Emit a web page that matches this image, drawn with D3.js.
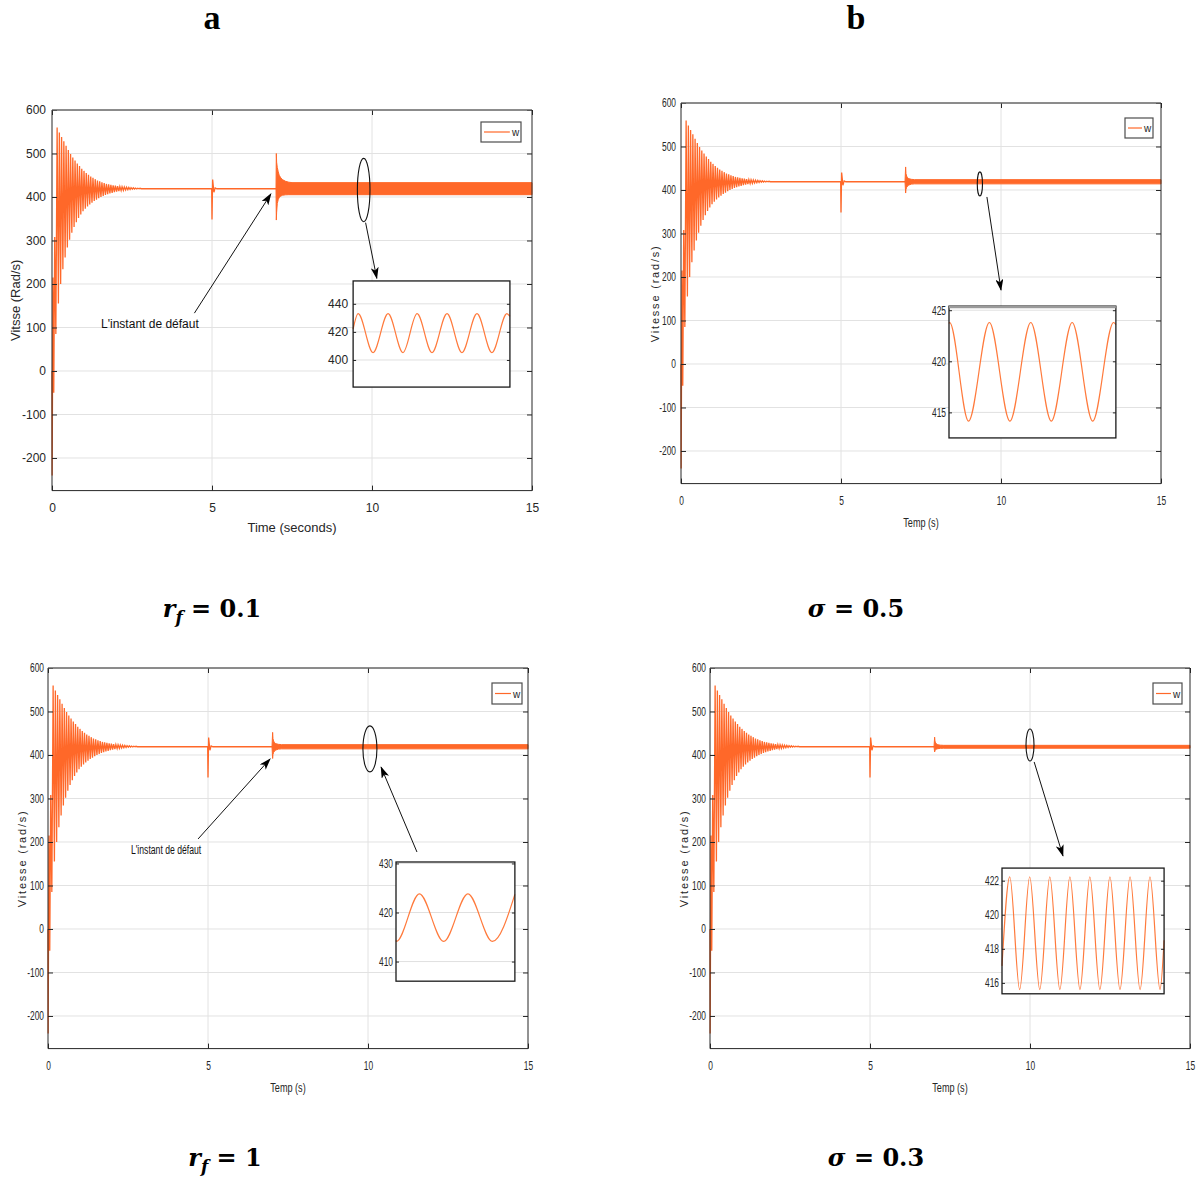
<!DOCTYPE html>
<html><head><meta charset="utf-8">
<script src="https://cdn.jsdelivr.net/npm/d3@7"></script>
<style>body{margin:0;background:#fff}</style>
</head><body>
<svg id="chart" width="1199" height="1178" xmlns="http://www.w3.org/2000/svg"></svg>
<script>
// ---------------- DATA ----------------
const xTicks = [0, 5, 10, 15];
const yTicks = [-200, -100, 0, 100, 200, 300, 400, 500, 600];
const yDomain = [-275, 600];
const steadyW = 419;

// start-up transient: successive extrema (t in s, w in rad/s)
const startT = [0, 0.005, 0.03, 0.055, 0.085, 0.12, 0.16, 0.20, 0.23, 0.27, 0.30, 0.34, 0.37, 0.41, 0.44, 0.48, 0.51, 0.55, 0.58, 0.62, 0.65, 0.69, 0.72, 0.76, 0.79, 0.83, 0.86, 0.90, 0.93, 0.97, 1.00, 1.04, 1.07, 1.11, 1.14, 1.18, 1.21, 1.25, 1.28, 1.32, 1.35, 1.39, 1.42, 1.46, 1.49, 1.53, 1.56, 1.60, 1.63, 1.67, 1.70, 1.74, 1.77, 1.81, 1.84, 1.88, 1.91, 1.95, 1.98, 2.02, 2.05, 2.09, 2.12, 2.16, 2.19, 2.23, 2.26, 2.30, 2.33, 2.37, 2.40, 2.44, 2.47, 2.51, 2.54, 2.58, 2.61, 2.65, 2.68, 2.72, 2.75, 2.79];
const startW = [0, -240, 215, -50, 308, 85, 560, 155, 548, 200, 538, 234, 528, 261, 518, 284, 508, 302, 499, 318, 491, 331, 484, 342, 477, 352, 471, 360, 465, 367, 460, 373, 455, 378, 451, 383, 447, 387, 444, 391, 441, 394, 438, 397, 436, 400, 434, 402.5, 432, 404.5, 430, 406.5, 429, 408, 428, 409.5, 427, 411, 426, 412.3, 425, 413.5, 424, 414.5, 423.5, 415.3, 423, 416, 422.5, 416.7, 422, 417.3, 421.5, 417.8, 421, 418.2, 420.5, 418.5, 420.2, 418.8, 420, 419];

// load step at t = 5 s
const eventT = [4.99, 5.0, 5.02, 5.06, 5.10, 5.15, 7.0];
const eventW = [419, 348, 440, 411, 421, 419, 419];

// fault at t = 7 s : envelope (upper / lower) of the fast oscillation
const faultA_T = [7.0, 7.01, 7.02, 7.04, 7.07, 7.1, 7.15, 7.2, 7.3, 7.4, 7.5, 15];
const faultA_Hi = [419, 500, 480, 468, 458, 450, 444, 440, 436, 434, 433, 433];
const faultA_Lo = [419, 347, 365, 385, 394, 399, 402, 404, 405, 405.3, 405.3, 405.3];

const faultB_T = [7.0, 7.02, 7.03, 7.05, 7.08, 7.12, 7.2, 7.3, 15];
const faultB_Hi = [419, 453, 438, 432, 428, 426, 424.5, 423.8, 423.8];
const faultB_Lo = [419, 393, 401, 406, 409, 411.5, 413.5, 414.1, 414.1];

const faultC_T = [7.0, 7.02, 7.03, 7.05, 7.08, 7.12, 7.2, 7.3, 15];
const faultC_Hi = [419, 452, 438, 432, 428, 426, 424.5, 423.8, 423.8];
const faultC_Lo = [419, 392, 401, 406, 409, 411.5, 413.5, 414.1, 414.1];

const faultD_T = [7.0, 7.02, 7.03, 7.05, 7.08, 7.12, 7.2, 7.3, 15];
const faultD_Hi = [419, 441, 432, 428, 425, 423.5, 422.6, 422.2, 422.2];
const faultD_Lo = [419, 407, 410, 412, 413.5, 414.5, 415.3, 415.6, 415.6];

// zoom insets: extrema of the steady oscillation (normalised time in the zoom window)
const insetA_T = [0, 0.032, 0.127, 0.223, 0.318, 0.408, 0.503, 0.599, 0.694, 0.79, 0.885, 0.981, 1.0];
const insetA_W = [422, 433, 405.3, 433, 405.3, 433, 405.3, 433, 405.3, 433, 405.3, 433, 431];
const insetA_Ticks = [400, 420, 440];
const insetA_Dom = [380.7, 456.3];

const insetB_T = [0, 0.004, 0.117, 0.242, 0.365, 0.49, 0.613, 0.738, 0.861, 0.986, 1.0];
const insetB_W = [423.7, 423.8, 414.15, 423.8, 414.15, 423.8, 414.15, 423.8, 414.15, 423.8, 423.6];
const insetB_Ticks = [415, 420, 425];
const insetB_Dom = [412.5, 425.4];

const insetC_T = [0, 0.003, 0.197, 0.401, 0.605, 0.811, 1.0];
const insetC_W = [414.3, 414.1, 423.8, 414.1, 423.8, 414.1, 423.7];
const insetC_Ticks = [410, 420, 430];
const insetC_Dom = [406, 430.3];

const insetD_T = [0, 0.048, 0.109, 0.171, 0.233, 0.295, 0.357, 0.419, 0.481, 0.542, 0.604, 0.666, 0.728, 0.79, 0.852, 0.913, 0.975, 1.0];
const insetD_W = [417, 422.23, 415.61, 422.23, 415.61, 422.23, 415.61, 422.23, 415.61, 422.23, 415.61, 422.23, 415.61, 422.23, 415.61, 422.23, 415.61, 418.5];
const insetD_Ticks = [416, 418, 420, 422];
const insetD_Dom = [415.36, 422.74];

// ---------------- LAYOUT ----------------
const ORANGE = '#ff6829';
const INSET_ORANGE = '#ff7a3c';
const panels = [
  { x0: 52, x1: 532, y0: 110, y1: 490.6, cond: false, tickFs: 12, xlabel: 'Time (seconds)', ylabel: 'Vitsse (Rad/s)',
    ylabStyle: 'normal', yLabX: 15, yPad: 6, xPad: 12.5, xLabDy: 41.5,
    fault: [faultA_T, faultA_Hi, faultA_Lo],
    legend: { x: 481, y: 122, w: 40, h: 20 },
    inset: { t0: 9.41, t1: 14.31, v0: 207, v1: -37, T: insetA_T, W: insetA_W, ticks: insetA_Ticks, dom: insetA_Dom, grayTop: false },
    ellipse: { t: 9.74, v: 416, rx: 6.3, ry: 31.7 },
    zoomArrow: { t0: 9.80, v0: 341, t1: 10.15, v1: 213 },
    note: { t: 3.06, v: 108, at0: 4.45, av0: 133, at1: 6.84, av1: 407 } },
  { x0: 681, x1: 1161, y0: 103, y1: 483.6, cond: true, tickFs: 12, xlabel: 'Temp (s)', ylabel: 'Vitesse (rad/s)',
    ylabStyle: 'spaced', yLabX: 655, yPad: 5, xPad: 13, xLabDy: 43,
    fault: [faultB_T, faultB_Hi, faultB_Lo],
    legend: { x: 1125, y: 118, w: 28, h: 20 },
    inset: { t0: 8.375, t1: 13.59, v0: 133, v1: -170, T: insetB_T, W: insetB_W, ticks: insetB_Ticks, dom: insetB_Dom, grayTop: true },
    ellipse: { t: 9.34, v: 414, rx: 2.6, ry: 12 },
    zoomArrow: { t0: 9.56, v0: 384, t1: 10.0, v1: 170 },
    note: null },
  { x0: 48, x1: 528, y0: 668, y1: 1048.6, cond: true, tickFs: 12, xlabel: 'Temp (s)', ylabel: 'Vitesse (rad/s)',
    ylabStyle: 'spaced', yLabX: 22, yPad: 4, xPad: 13, xLabDy: 43,
    fault: [faultC_T, faultC_Hi, faultC_Lo],
    legend: { x: 492, y: 683, w: 30, h: 21 },
    inset: { t0: 10.875, t1: 14.59, v0: 154, v1: -120, T: insetC_T, W: insetC_W, ticks: insetC_Ticks, dom: insetC_Dom, grayTop: false },
    ellipse: { t: 10.06, v: 414, rx: 7, ry: 23 },
    zoomArrow: { t0: 11.53, v0: 177, t1: 10.41, v1: 372 },
    note: { t: 3.69, v: 182, at0: 4.69, av0: 207, at1: 6.94, av1: 391 } },
  { x0: 710, x1: 1190, y0: 668, y1: 1048.6, cond: true, tickFs: 12, xlabel: 'Temp (s)', ylabel: 'Vitesse (rad/s)',
    ylabStyle: 'spaced', yLabX: 684, yPad: 4, xPad: 13, xLabDy: 43,
    fault: [faultD_T, faultD_Hi, faultD_Lo],
    legend: { x: 1153, y: 683, w: 29, h: 21 },
    inset: { t0: 9.125, t1: 14.19, v0: 140, v1: -149, T: insetD_T, W: insetD_W, ticks: insetD_Ticks, dom: insetD_Dom, grayTop: false },
    ellipse: { t: 10.0, v: 423, rx: 4, ry: 16 },
    zoomArrow: { t0: 10.13, v0: 384, t1: 11.03, v1: 168 },
    note: null }
];

const svg = d3.select('#chart');
const SANS = 'Liberation Sans, Arial, Helvetica, sans-serif';
const fmt = d => String(d);

svg.append('defs').append('marker')
  .attr('id', 'arr').attr('markerUnits', 'userSpaceOnUse')
  .attr('viewBox', '0 0 12 8').attr('refX', 11).attr('refY', 4)
  .attr('markerWidth', 12).attr('markerHeight', 8).attr('orient', 'auto')
  .append('path').attr('d', 'M0,0L12,4L0,8L3,4Z').attr('fill', '#000');

function condense(sel, f) {
  sel.each(function () {
    const l = this.getComputedTextLength();
    if (l > 0) d3.select(this).attr('textLength', l * f).attr('lengthAdjust', 'spacingAndGlyphs');
  });
}

function drawPanel(p) {
  const x = d3.scaleLinear().domain([0, 15]).range([p.x0, p.x1]);
  const y = d3.scaleLinear().domain(yDomain).range([p.y1, p.y0]);
  const g = svg.append('g');
  const CF = 0.7;

  // grid
  g.append('g').selectAll('line').data(yTicks).join('line')
    .attr('x1', p.x0).attr('x2', p.x1).attr('y1', d => y(d)).attr('y2', d => y(d))
    .attr('stroke', '#e2e2e2').attr('stroke-width', 1);
  g.append('g').selectAll('line').data(xTicks.filter(d => d > 0 && d < 15)).join('line')
    .attr('x1', d => x(d)).attr('x2', d => x(d)).attr('y1', p.y0).attr('y2', p.y1)
    .attr('stroke', '#e2e2e2').attr('stroke-width', 1);

  // signal
  const seq = startT.map((t, i) => [t, startW[i]]).concat(eventT.map((t, i) => [t, eventW[i]]));
  g.append('path').datum(seq)
    .attr('d', d3.line().x(d => x(d[0])).y(d => y(d[1])))
    .attr('fill', 'none').attr('stroke', ORANGE).attr('stroke-width', 1.3);
  const [fT, fH, fL] = p.fault;
  const fa = fT.map((t, i) => ({ t, hi: fH[i], lo: fL[i] }));
  g.append('path').datum(fa)
    .attr('d', d3.area().x(d => x(d.t)).y0(d => y(d.lo)).y1(d => y(d.hi)))
    .attr('fill', ORANGE).attr('stroke', ORANGE).attr('stroke-width', 1);

  // axes
  const fs = p.tickFs;
  const ax = g.append('g').attr('transform', `translate(0,${p.y1})`)
    .call(d3.axisBottom(x).tickValues(xTicks).tickSize(-5).tickPadding(p.xPad).tickFormat(fmt));
  const ay = g.append('g').attr('transform', `translate(${p.x0},0)`)
    .call(d3.axisLeft(y).tickValues(yTicks).tickSize(-5).tickPadding(p.yPad).tickFormat(fmt));
  const at = g.append('g').attr('transform', `translate(0,${p.y0})`)
    .call(d3.axisTop(x).tickValues(xTicks).tickSize(-5).tickFormat(''));
  const ar = g.append('g').attr('transform', `translate(${p.x1},0)`)
    .call(d3.axisRight(y).tickValues(yTicks).tickSize(-5).tickFormat(''));
  [ax, ay, at, ar].forEach(a => {
    a.select('.domain').remove();
    a.selectAll('.tick line').attr('stroke', '#262626');
    a.selectAll('text').attr('font-family', SANS).attr('font-size', fs).attr('fill', '#262626');
  });
  if (p.cond) { condense(ax.selectAll('text'), CF); condense(ay.selectAll('text'), CF); }
  // box
  g.append('line').attr('x1', p.x0).attr('x2', p.x1).attr('y1', p.y0).attr('y2', p.y0).attr('stroke', '#6a6a6a').attr('stroke-width', 1.6);
  g.append('line').attr('x1', p.x0).attr('x2', p.x0).attr('y1', p.y0).attr('y2', p.y1).attr('stroke', '#262626');
  g.append('line').attr('x1', p.x1).attr('x2', p.x1).attr('y1', p.y0).attr('y2', p.y1).attr('stroke', '#262626');
  g.append('line').attr('x1', p.x0).attr('x2', p.x1).attr('y1', p.y1).attr('y2', p.y1).attr('stroke', '#262626');

  // axis labels
  const xl = g.append('text').attr('x', (p.x0 + p.x1) / 2).attr('y', p.y1 + p.xLabDy)
    .attr('text-anchor', 'middle').attr('font-family', SANS).attr('font-size', p.cond ? 13 : 13)
    .attr('fill', '#262626').text(p.xlabel);
  if (p.cond) condense(xl, CF);
  const yl = g.append('text')
    .attr('transform', `translate(${p.yLabX},${(p.y0 + p.y1) / 2}) rotate(-90)`)
    .attr('text-anchor', 'middle').attr('dy', '0.35em').attr('font-family', SANS)
    .attr('fill', '#262626').text(p.ylabel);
  if (p.ylabStyle === 'spaced') yl.attr('font-size', 11).attr('letter-spacing', 1.8);
  else yl.attr('font-size', 13);

  // legend
  const L = p.legend;
  g.append('rect').attr('x', L.x).attr('y', L.y).attr('width', L.w).attr('height', L.h)
    .attr('fill', '#fff').attr('stroke', '#4d4d4d').attr('stroke-width', 1.2);
  g.append('line').attr('x1', L.x + 3).attr('x2', L.x + L.w - 11).attr('y1', L.y + L.h / 2).attr('y2', L.y + L.h / 2)
    .attr('stroke', ORANGE).attr('stroke-width', 1.2);
  g.append('text').attr('x', L.x + L.w - 9).attr('y', L.y + L.h / 2 + 4)
    .attr('font-family', SANS).attr('font-size', 10).attr('fill', '#262626').text('w');

  // ellipse + zoom arrow
  const E = p.ellipse;
  g.append('ellipse').attr('cx', x(E.t)).attr('cy', y(E.v)).attr('rx', E.rx).attr('ry', E.ry)
    .attr('fill', 'none').attr('stroke', '#111').attr('stroke-width', 1.1);
  const Z = p.zoomArrow;
  g.append('line').attr('x1', x(Z.t0)).attr('y1', y(Z.v0)).attr('x2', x(Z.t1)).attr('y2', y(Z.v1))
    .attr('stroke', '#111').attr('stroke-width', 1).attr('marker-end', 'url(#arr)');

  // note
  if (p.note) {
    const N = p.note;
    g.append('line').attr('x1', x(N.at0)).attr('y1', y(N.av0)).attr('x2', x(N.at1)).attr('y2', y(N.av1))
      .attr('stroke', '#111').attr('stroke-width', 1).attr('marker-end', 'url(#arr)');
    const nt = g.append('text').attr('x', x(N.t)).attr('y', y(N.v)).attr('dy', '0.35em')
      .attr('text-anchor', 'middle').attr('font-family', SANS).attr('font-size', p.cond ? 12 : 12)
      .attr('fill', '#111').text("L'instant de défaut");
    if (p.cond) condense(nt, 0.72);
  }

  // inset
  const I = p.inset;
  const ix0 = x(I.t0), ix1 = x(I.t1), iy0 = y(I.v0), iy1 = y(I.v1);
  const sx = d3.scaleLinear().domain([0, 1]).range([ix0, ix1]);
  const sy = d3.scaleLinear().domain(I.dom).range([iy1, iy0]);
  const ig = g.append('g');
  ig.append('rect').attr('x', ix0).attr('y', iy0).attr('width', ix1 - ix0).attr('height', iy1 - iy0).attr('fill', '#fff');
  ig.append('g').selectAll('line').data(I.ticks).join('line')
    .attr('x1', ix0).attr('x2', ix1).attr('y1', d => sy(d)).attr('y2', d => sy(d))
    .attr('stroke', '#e0e0e0').attr('stroke-width', 1);
  ig.append('path').datum(I.T.map((t, i) => [t, I.W[i]]))
    .attr('d', d3.line().curve(d3.curveMonotoneX).x(d => sx(d[0])).y(d => sy(d[1])))
    .attr('fill', 'none').attr('stroke', INSET_ORANGE).attr('stroke-width', 1.2);
  const il = ig.append('g').attr('transform', `translate(${ix0},0)`)
    .call(d3.axisLeft(sy).tickValues(I.ticks).tickSize(-3).tickPadding(p.cond ? 3 : 5).tickFormat(fmt));
  const ir = ig.append('g').attr('transform', `translate(${ix1},0)`)
    .call(d3.axisRight(sy).tickValues(I.ticks).tickSize(-3).tickFormat(''));
  [il, ir].forEach(a => {
    a.select('.domain').remove();
    a.selectAll('.tick line').attr('stroke', '#262626');
    a.selectAll('text').attr('font-family', SANS).attr('font-size', fs).attr('fill', '#262626');
  });
  if (p.cond) condense(il.selectAll('text'), CF);
  ig.append('rect').attr('x', ix0).attr('y', iy0).attr('width', ix1 - ix0).attr('height', iy1 - iy0)
    .attr('fill', 'none').attr('stroke', '#1a1a1a').attr('stroke-width', 1.3);
  if (I.grayTop) ig.append('line').attr('x1', ix0).attr('x2', ix1).attr('y1', iy0 + 1).attr('y2', iy0 + 1)
    .attr('stroke', '#9a9a9a').attr('stroke-width', 2.2);
}

panels.forEach(drawPanel);

// headers / captions
const SERIF = 'DejaVu Serif, Liberation Serif, serif';
svg.append('text').attr('x', 212).attr('y', 29).attr('text-anchor', 'middle')
  .attr('font-family', 'Liberation Serif, serif').attr('font-weight', 'bold').attr('font-size', 34).text('a');
svg.append('text').attr('x', 856).attr('y', 29).attr('text-anchor', 'middle')
  .attr('font-family', 'Liberation Serif, serif').attr('font-weight', 'bold').attr('font-size', 34).text('b');

function caption(cx, by, kind, val) {
  const t = svg.append('text').attr('x', cx).attr('y', by).attr('text-anchor', 'middle')
    .attr('font-family', SERIF).attr('font-weight', 'bold').attr('font-size', 24).attr('fill', '#000');
  if (kind === 'r') {
    t.append('tspan').attr('font-style', 'italic').text('r');
    t.append('tspan').attr('font-style', 'italic').attr('font-size', 17).attr('dy', 6).text('f');
    t.append('tspan').attr('dy', -6).text(' = ' + val);
  } else {
    t.append('tspan').attr('font-style', 'italic').text('σ');
    t.append('tspan').text(' = ' + val);
  }
}
caption(212, 617, 'r', '0.1');
caption(856, 617, 's', '0.5');
caption(225, 1166, 'r', '1');
caption(876, 1166, 's', '0.3');
</script>
</body></html>
